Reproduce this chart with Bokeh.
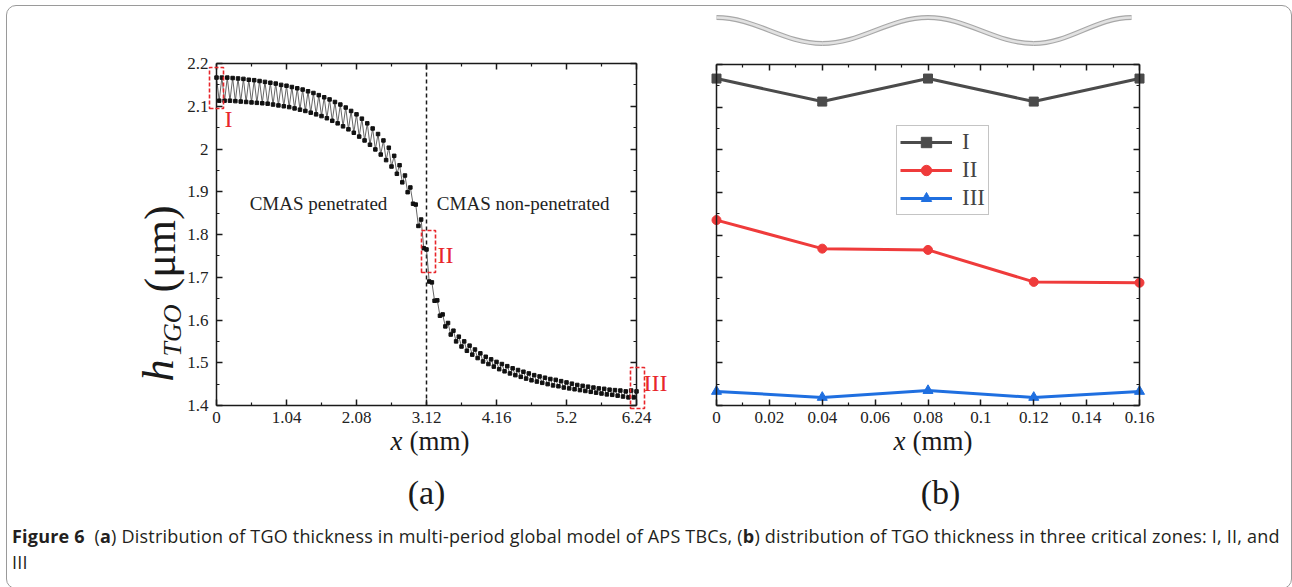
import numpy as np
from bokeh.plotting import figure
from bokeh.models import (Range1d, FixedTicker, Label, PolyAnnotation,
                          LinearAxis, Legend, LegendItem, Div)
from bokeh.layouts import column, row
from bokeh.embed import file_html
from bokeh.resources import INLINE

# ---------------- data ----------------
# panel (a): TGO thickness along x (mm); peaks at x = 0.08k, valleys at x = 0.04 + 0.08k
peak_h = [2.167, 2.167, 2.167, 2.166, 2.165, 2.164, 2.162, 2.161, 2.159, 2.157,
          2.155, 2.153, 2.150, 2.148, 2.145, 2.142, 2.139, 2.135, 2.131, 2.126,
          2.121, 2.116, 2.110, 2.104, 2.097, 2.089, 2.081, 2.071, 2.060, 2.048,
          2.035, 2.020, 2.003, 1.984, 1.962, 1.938, 1.910, 1.870, 1.835, 1.765,
          1.688, 1.646, 1.613, 1.593, 1.575, 1.561, 1.550, 1.540, 1.531, 1.522,
          1.514, 1.508, 1.502, 1.497, 1.492, 1.487, 1.483, 1.479, 1.475, 1.471,
          1.468, 1.465, 1.462, 1.460, 1.457, 1.454, 1.451, 1.448, 1.446, 1.444,
          1.442, 1.440, 1.439, 1.437, 1.436, 1.435, 1.433, 1.435, 1.433]
valley_h = [2.113, 2.113, 2.113, 2.112, 2.111, 2.110, 2.109, 2.108, 2.107, 2.106,
            2.104, 2.102, 2.100, 2.098, 2.095, 2.092, 2.089, 2.085, 2.081, 2.077,
            2.072, 2.066, 2.060, 2.053, 2.046, 2.038, 2.029, 2.020, 2.010, 1.999,
            1.987, 1.974, 1.959, 1.942, 1.922, 1.899, 1.872, 1.820, 1.768, 1.690,
            1.645, 1.610, 1.585, 1.566, 1.550, 1.538, 1.528, 1.519, 1.511, 1.503,
            1.497, 1.491, 1.485, 1.480, 1.475, 1.471, 1.467, 1.463, 1.459, 1.456,
            1.453, 1.450, 1.447, 1.445, 1.442, 1.440, 1.438, 1.436, 1.434, 1.432,
            1.430, 1.428, 1.426, 1.425, 1.423, 1.421, 1.419, 1.419]
step_a = 0.04
penetration_x = 3.12

# panel (b): three critical zones
zone_x = [0, 0.04, 0.08, 0.12, 0.16]
zone_I = [2.167, 2.113, 2.167, 2.113, 2.167]
zone_II = [1.835, 1.768, 1.765, 1.690, 1.688]
zone_III = [1.433, 1.419, 1.435, 1.419, 1.433]
zone_names = ["I", "II", "III"]

# ticks
xa_ticks = [0, 1.04, 2.08, 3.12, 4.16, 5.2, 6.24]
xa_labels = ["0", "1.04", "2.08", "3.12", "4.16", "5.2", "6.24"]
xa_minor = [0.52, 1.56, 2.6, 3.64, 4.68, 5.72]
y_ticks = [1.4, 1.5, 1.6, 1.7, 1.8, 1.9, 2.0, 2.1, 2.2]
y_labels = ["1.4", "1.5", "1.6", "1.7", "1.8", "1.9", "2", "2.1", "2.2"]
y_minor = [1.45, 1.55, 1.65, 1.75, 1.85, 1.95, 2.05, 2.15]
xb_ticks = [0, 0.02, 0.04, 0.06, 0.08, 0.1, 0.12, 0.14, 0.16]
xb_labels = ["0", "0.02", "0.04", "0.06", "0.08", "0.1", "0.12", "0.14", "0.16"]
xb_minor = [0.01, 0.03, 0.05, 0.07, 0.09, 0.11, 0.13, 0.15]
xa_lim = (0, 6.24)
xb_lim = (0, 0.16)
y_lim = (1.4, 2.2)

# schematic TGO interface wave above panel (b): node x and level (+1 crest, -1 trough)
wave_x = [0, 0.04, 0.08, 0.12, 0.157]
wave_level = [1, -1, 1, -1, 1]

# interleave peaks / valleys
h_a = []
for i in range(len(valley_h)):
    h_a += [peak_h[i], valley_h[i]]
h_a.append(peak_h[-1])
x_a = [round(step_a * i, 2) for i in range(len(h_a))]

SERIF = "Liberation Serif"
INK = "#1a1a1a"
RED = "#e8262b"

# ---------------- page geometry (pixels) ----------------
TOP = 6          # page y of the figures' top edge
FIG_H = 512
A_LEFT, A_W = 7, 670
B_LEFT, B_W = 677, 608


def frame(left, width, x0, x1, px0, px1, py_bottom, py_top):
    sx = (px1 - px0) / (x1 - x0)
    xmin = x0 - (px0 - left) / sx
    xmax = xmin + width / sx
    sy = (py_bottom - py_top) / (y_lim[1] - y_lim[0])
    ymax = y_lim[1] + (py_top - TOP) / sy
    ymin = ymax - FIG_H / sy
    fx = lambda px: xmin + (px - left) / sx
    fy = lambda py: ymax - (py - TOP) / sy
    return (xmin, xmax, ymin, ymax, fx, fy)


ax_min, ax_max, ay_min, ay_max, AX, AY = frame(A_LEFT, A_W, 0, 6.24, 216, 636, 405, 63)
bx_min, bx_max, by_min, by_max, BX, BY = frame(B_LEFT, B_W, 0, 0.16, 716, 1139, 405, 64)


def style_axis(ax, show_labels=True, standoff=6):
    ax.axis_line_width = 1.5
    ax.axis_line_color = INK
    ax.major_tick_in = 6
    ax.major_tick_out = 0
    ax.minor_tick_in = 3
    ax.minor_tick_out = 0
    ax.major_tick_line_width = 1.5
    ax.minor_tick_line_width = 1.2
    ax.major_tick_line_color = INK
    ax.minor_tick_line_color = INK
    ax.major_label_text_font = SERIF
    ax.major_label_text_font_size = "17px"
    ax.major_label_standoff = standoff
    ax.major_label_text_color = "#222222" if show_labels else None


def add_box_axes(p, xlim, xticks, xminor, xlabels, ylabels_on):
    xt = FixedTicker(ticks=xticks, minor_ticks=xminor)
    yt = FixedTicker(ticks=y_ticks, minor_ticks=y_minor)
    bottom = LinearAxis(ticker=xt, fixed_location=y_lim[0], bounds=xlim,
                        major_label_overrides=dict(zip(xticks, xlabels)))
    top = LinearAxis(ticker=xt, fixed_location=y_lim[1], bounds=xlim)
    left = LinearAxis(ticker=yt, fixed_location=xlim[0], bounds=y_lim,
                      major_label_overrides=dict(zip(y_ticks, y_labels)))
    right = LinearAxis(ticker=yt, fixed_location=xlim[1], bounds=y_lim)
    style_axis(bottom, True, 6)
    style_axis(top, False)
    style_axis(left, ylabels_on, 8)
    style_axis(right, False)
    p.add_layout(bottom, "below")
    p.add_layout(top, "above")
    p.add_layout(left, "left")
    p.add_layout(right, "right")


def base_fig(width, xr, yr):
    p = figure(width=width, height=FIG_H, x_range=Range1d(*xr), y_range=Range1d(*yr),
               x_axis_location=None, y_axis_location=None,
               min_border_left=0, min_border_right=0, min_border_top=0, min_border_bottom=0,
               toolbar_location=None, output_backend="svg")
    p.grid.visible = False
    p.outline_line_color = None
    p.background_fill_color = None
    p.border_fill_color = None
    return p


def text(p, x, y, s, size, color="#1a1a1a", style="normal", align="left", angle=0.0):
    p.add_layout(Label(x=x, y=y, text=s, text_font=SERIF, text_font_size=size,
                       text_font_style=style, text_color=color, text_align=align,
                       text_baseline="middle", angle=angle))


# ---------------- panel (a) ----------------
pa = base_fig(A_W, (ax_min, ax_max), (ay_min, ay_max))
add_box_axes(pa, xa_lim, xa_ticks, xa_minor, xa_labels, True)

pa.segment(x0=[penetration_x], y0=[y_lim[0]], x1=[penetration_x], y1=[y_lim[1]],
           line_color=INK, line_width=1.5, line_dash="4 3")
pa.line(x_a, h_a, line_color="#555555", line_width=0.9)
pa.scatter(x_a, h_a, marker="square", size=3.5, color="#111111")

# zone boxes (page pixels of the reference)
box_px = [(209, 223, 67, 108), (421, 435, 230, 272), (630, 644, 367, 408)]
for (l, r, t, b) in box_px:
    pa.add_layout(PolyAnnotation(xs=[AX(l), AX(r), AX(r), AX(l)],
                                 ys=[AY(b), AY(b), AY(t), AY(t)],
                                 fill_alpha=0, line_color=RED, line_alpha=1.0,
                                 line_width=1.6, line_dash="4 2"))
for name, (px, py) in zip(zone_names, [(224, 118), (437, 254), (643, 382)]):
    text(pa, AX(px), AY(py), name, "24px", color=RED)

text(pa, AX(318), AY(203), "CMAS penetrated", "19px", color="#222222", align="center")
text(pa, AX(525), AY(203), "CMAS  non-penetrated", "19px", color="#222222", align="center")

# axis titles (a)
text(pa, AX(390), AY(440), "x", "27px", style="italic")
text(pa, AX(409), AY(440), "(mm)", "27px")
text(pa, AX(158), AY(381), "h", "44px", style="italic", angle=np.pi / 2)
text(pa, AX(172), AY(356), "TGO", "26px", style="italic", angle=np.pi / 2)
text(pa, AX(160), AY(292), "(μm)", "44px", angle=np.pi / 2)
text(pa, AX(426), AY(492), "(a)", "34px", align="center")

# ---------------- panel (b) ----------------
pb = base_fig(B_W, (bx_min, bx_max), (by_min, by_max))
add_box_axes(pb, xb_lim, xb_ticks, xb_minor, xb_labels, False)

colors = ["#4b4b4b", "#ef3b3b", "#1f6fe0"]
markers = ["square", "circle", "triangle"]
sizes = [9, 9, 10]
items = []
for name, vals, c, m, s in zip(zone_names, [zone_I, zone_II, zone_III], colors, markers, sizes):
    l = pb.line(zone_x, vals, line_color=c, line_width=3)
    sc = pb.scatter(zone_x, vals, marker=m, size=s, color=c)
    items.append(LegendItem(label=name, renderers=[l, sc]))
leg = Legend(items=items, location=(896 - B_LEFT, TOP + FIG_H - 215), glyph_width=52,
             glyph_height=26, label_height=26, spacing=2, padding=3, margin=0,
             label_standoff=10, label_text_font=SERIF, label_text_font_size="23px",
             border_line_color="#8a8a8a", border_line_width=1, background_fill_alpha=1)
pb.add_layout(leg, "center")

# wave schematic (crest at page y 17, trough at 43)
crest, trough = BY(17), BY(43)
mid, amp = (crest + trough) / 2, (crest - trough) / 2
wy = [mid + amp * v for v in wave_level]
x0, x1, y0, y1 = wave_x[:-1], wave_x[1:], wy[:-1], wy[1:]
cx0 = [a + 0.364 * (b - a) for a, b in zip(x0, x1)]
cx1 = [b - 0.364 * (b - a) for a, b in zip(x0, x1)]
pb.bezier(x0=x0, y0=y0, x1=x1, y1=y1, cx0=cx0, cy0=y0, cx1=cx1, cy1=y1,
          line_color="#a8a8a8", line_width=5)
pb.bezier(x0=x0, y0=y0, x1=x1, y1=y1, cx0=cx0, cy0=y0, cx1=cx1, cy1=y1,
          line_color="#e2e2e2", line_width=2.5)

text(pb, BX(893), BY(440), "x", "27px", style="italic")
text(pb, BX(912), BY(440), "(mm)", "27px")
text(pb, BX(940), BY(492), "(b)", "34px", align="center")

caption = Div(
    text=('<b>Figure 6</b>&nbsp;&nbsp;(<b>a</b>) Distribution of TGO thickness in multi-period '
          'global model of APS TBCs, (<b>b</b>) distribution of TGO thickness in three critical '
          'zones: I, II, and<br>III'),
    width=1274, height=60,
    styles={"font-family": "'Open Sans'", "font-size": "18px", "line-height": "26px",
            "color": "#231f20", "padding-left": "0px", "padding-top": "0px",
            "letter-spacing": "0.2px", "white-space": "nowrap"})

layout = column(row(pa, pb, spacing=0), caption, spacing=0,
                styles={"border": "1px solid #9a9a9a", "border-radius": "10px",
                        "margin-left": "6px", "margin-top": "5px"})

open("out.html", "w").write(file_html(layout, INLINE))
